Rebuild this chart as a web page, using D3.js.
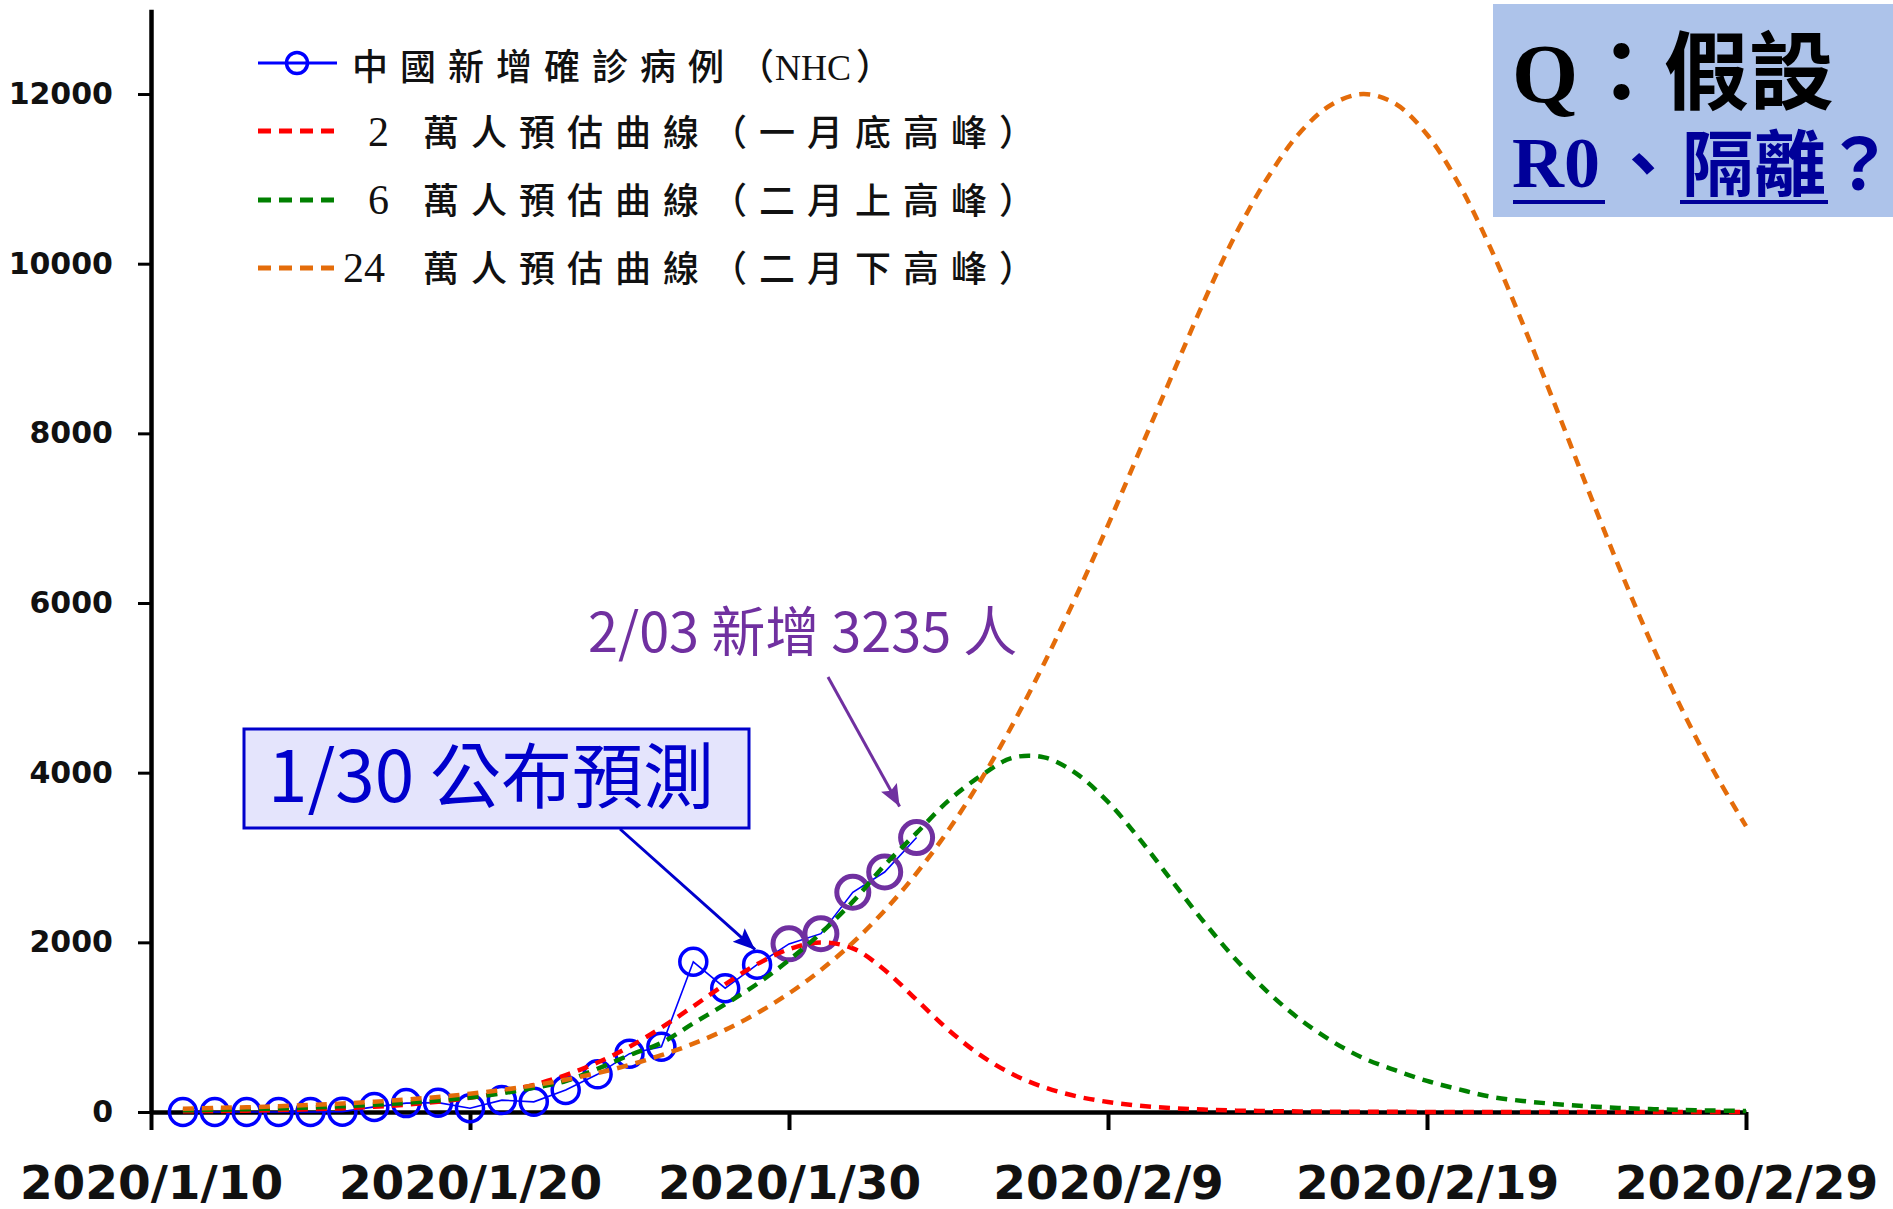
<!DOCTYPE html>
<html>
<head>
<meta charset="utf-8">
<script src="https://cdn.jsdelivr.net/npm/d3@7"></script>
<style>
  body { margin: 0; background: #fff; }
  svg { display: block; }
</style>
</head>
<body>
<svg id="chart" width="1893" height="1209"></svg>
<script>
// ---------------- DATA ----------------
const caseDates = ["2020-01-11","2020-01-12","2020-01-13","2020-01-14","2020-01-15","2020-01-16",
  "2020-01-17","2020-01-18","2020-01-19","2020-01-20","2020-01-21","2020-01-22","2020-01-23",
  "2020-01-24","2020-01-25","2020-01-26","2020-01-27","2020-01-28","2020-01-29","2020-01-30",
  "2020-01-31","2020-02-01","2020-02-02","2020-02-03"];
const newCases = [0,0,0,0,0,4,60,105,110,45,140,120,259,444,688,769,1771,1459,1737,1982,2102,2590,2829,3235];
const highlightFrom = "2020-01-30";

const curveStart = "2020-01-11";
const curveEnd = "2020-02-29";
const forecast20k = [8,12,16,23,32,45,62,87,121,169,
  233,320,435,583,770,994,1246,1506,1743,1919,
  1998,1929,1673,1321,967,670,447,291,186,118,
  74,46,29,18,11,7,4,3,2,1,
  1,1,0,0,0,0,0,0,0,0];
const forecast60k = [20,26,33,42,53,67,85,107,135,172,
  220,285,365,510,670,815,1045,1270,1510,1790,
  2110,2480,2910,3290,3670,3960,4175,4180,3991,3655,
  3213,2726,2243,1801,1417,1097,839,636,493,366,
  267,180,130,95,68,48,34,24,17,12];
const forecast240k = [38,47,56,68,83,100,121,147,178,215,
  260,314,381,460,555,670,805,968,1165,1398,
  1674,1996,2376,2816,3324,3905,4560,5291,6079,6919,
  7802,8677,9549,10345,11010,11538,11874,12000,11887,11523,
  10938,10177,9294,8347,7382,6441,5553,4739,4011,3370];

// legend labels split into pieces: [latin prefix, CJK body, open paren, latin inner, closing]
const legendLabels = [
  ["", "中國新增確診病例", "（", "NHC", "）"],
  ["2", "萬人預估曲線（一月底高峰）", "", "", ""],
  ["6", "萬人預估曲線（二月上高峰）", "", "", ""],
  ["24", "萬人預估曲線（二月下高峰）", "", "", ""]
];

const xTickDates = ["2020-01-10","2020-01-20","2020-01-30","2020-02-09","2020-02-19","2020-02-29"];
const xTickLabels = ["2020/1/10","2020/1/20","2020/1/30","2020/2/9","2020/2/19","2020/2/29"];
const yTicks = [0,2000,4000,6000,8000,10000,12000];

const annotation1 = "1/30 公布預測";
const annotation2 = "2/03 新增 3235 人";
const questionLine1 = ["Q", "：假設"];
const questionLine2 = ["R0", "、", "隔離", "？"];

// ---------------- SETUP ----------------
const parse = d3.timeParse("%Y-%m-%d");
const svg = d3.select("#chart");
svg.append("rect").attr("width", 1893).attr("height", 1209).attr("fill", "#fff");

const x = d3.scaleTime()
  .domain([parse("2020-01-10"), parse("2020-02-29")])
  .range([151, 1746]);
const y = d3.scaleLinear().domain([0, 13000]).range([1112, 9.2]);

const defs = svg.append("defs");
function marker(id, color) {
  defs.append("marker").attr("id", id)
    .attr("markerUnits", "userSpaceOnUse")
    .attr("markerWidth", 24).attr("markerHeight", 20)
    .attr("refX", 22).attr("refY", 9).attr("orient", "auto")
    .append("path").attr("d", "M0,0 L22,9 L0,18 L4,9 Z").attr("fill", color);
}
marker("arrBlue", "#0000CC");
marker("arrPurple", "#7030A0");

// ---------------- AXES ----------------
const gx = svg.append("g").attr("transform", "translate(0,1112)")
  .call(d3.axisBottom(x)
    .tickValues(xTickDates.map(parse))
    .tickFormat((d, i) => xTickLabels[i])
    .tickSize(18).tickSizeOuter(0).tickPadding(36));
gx.select(".domain").attr("stroke", "#000").attr("stroke-width", 4.5);
gx.selectAll(".tick line").attr("stroke", "#000").attr("stroke-width", 4);
gx.selectAll(".tick text")
  .attr("font-family", "'DejaVu Sans', Verdana, sans-serif")
  .attr("font-weight", "bold").attr("font-size", 47).attr("fill", "#111");

const gy = svg.append("g").attr("transform", "translate(151,0)")
  .call(d3.axisLeft(y).tickValues(yTicks).tickFormat(d3.format("d"))
    .tickSize(13).tickSizeOuter(0).tickPadding(25));
gy.select(".domain").attr("stroke", "#000").attr("stroke-width", 4.5);
gy.selectAll(".tick line").attr("stroke", "#000").attr("stroke-width", 3);
gy.selectAll(".tick text")
  .attr("font-family", "'DejaVu Sans', Verdana, sans-serif")
  .attr("font-weight", "bold").attr("font-size", 30).attr("fill", "#111");

// ---------------- OBSERVED DATA ----------------
const obs = caseDates.map((d, i) => ({ date: parse(d), v: newCases[i], hi: d >= highlightFrom }));
svg.append("path").datum(obs)
  .attr("fill", "none").attr("stroke", "#0000FF").attr("stroke-width", 1.6)
  .attr("d", d3.line().x(d => x(d.date)).y(d => y(d.v)));
svg.append("g").selectAll("circle").data(obs).join("circle")
  .attr("cx", d => x(d.date)).attr("cy", d => y(d.v))
  .attr("r", d => d.hi ? 16 : 13.5)
  .attr("fill", "none")
  .attr("stroke", d => d.hi ? "#7030A0" : "#0000FF")
  .attr("stroke-width", d => d.hi ? 5 : 3.5);

// ---------------- FORECAST CURVES ----------------
const curveDates = d3.timeDay.range(parse(curveStart), d3.timeDay.offset(parse(curveEnd), 1));
const curveLine = d3.line().x(d => x(d.date)).y(d => y(Math.max(0, d.v)))
  .curve(d3.curveCatmullRom.alpha(0.5));
const series = [
  { vals: forecast20k, color: "#FF0000" },
  { vals: forecast60k, color: "#008000" },
  { vals: forecast240k, color: "#E46C0A" }
];
series.forEach(s => {
  svg.append("path")
    .datum(curveDates.map((d, i) => ({ date: d, v: s.vals[i] })))
    .attr("fill", "none").attr("stroke", s.color).attr("stroke-width", 4.5)
    .attr("stroke-dasharray", "11 8")
    .attr("d", curveLine);
});

// ---------------- LEGEND ----------------
const legendFont = "'Liberation Serif', 'Noto Sans CJK TC', serif";
const legendRows = [
  { label: legendLabels[0], color: "#0000FF", dashed: false, ly: 63, ty: 80, px: 0, cx: 352, ox: 738, nx: 775, ex: 856 },
  { label: legendLabels[1], color: "#FF0000", dashed: true, ly: 131, ty: 146, px: 368, cx: 423 },
  { label: legendLabels[2], color: "#008000", dashed: true, ly: 200, ty: 214, px: 368, cx: 423 },
  { label: legendLabels[3], color: "#E46C0A", dashed: true, ly: 268, ty: 282, px: 343, cx: 423 }
];
const lg = svg.append("g");
legendRows.forEach(r => {
  lg.append("line").attr("x1", 258).attr("x2", 337).attr("y1", r.ly).attr("y2", r.ly)
    .attr("stroke", r.color).attr("stroke-width", r.dashed ? 5 : 3)
    .attr("stroke-dasharray", r.dashed ? "13 8" : null);
  if (!r.dashed) {
    lg.append("circle").attr("cx", 297).attr("cy", r.ly).attr("r", 10.5)
      .attr("fill", "none").attr("stroke", r.color).attr("stroke-width", 3.5);
  }
  const t = lg.append("text").attr("y", r.ty)
    .attr("font-size", 36).attr("font-weight", 500).attr("fill", "#111")
    .attr("font-family", legendFont);
  const [pre, body, open, inner, close] = r.label;
  if (pre) t.append("tspan").attr("x", r.px).attr("font-size", 42).text(pre);
  t.append("tspan").attr("x", r.cx).attr("letter-spacing", 12).text(body);
  if (open) t.append("tspan").attr("x", r.ox).text(open);
  if (inner) t.append("tspan").attr("x", r.nx).text(inner);
  if (close) t.append("tspan").attr("x", r.ex).text(close);
});

// ---------------- ANNOTATIONS ----------------
svg.append("rect").attr("x", 244).attr("y", 729).attr("width", 505).attr("height", 99)
  .attr("fill", "#E4E4FC").attr("stroke", "#0000CC").attr("stroke-width", 3);
svg.append("text").attr("x", 268).attr("y", 802)
  .attr("font-family", "'Noto Sans CJK TC', 'Noto Sans', sans-serif")
  .attr("font-size", 71).attr("fill", "#0000CC").text(annotation1);
const p129 = obs.find(d => d.v === 1737);
svg.append("line").attr("x1", 620).attr("y1", 829)
  .attr("x2", x(p129.date) - 2).attr("y2", y(p129.v) - 15)
  .attr("stroke", "#0000CC").attr("stroke-width", 3).attr("marker-end", "url(#arrBlue)");

svg.append("text").attr("x", 588).attr("y", 652)
  .attr("font-family", "'Noto Sans CJK TC', 'Noto Sans', sans-serif")
  .attr("font-size", 54).attr("fill", "#7030A0").text(annotation2);
const p203 = obs[obs.length - 1];
svg.append("line").attr("x1", 828).attr("y1", 677)
  .attr("x2", x(p203.date) - 17).attr("y2", y(p203.v) - 31)
  .attr("stroke", "#7030A0").attr("stroke-width", 3).attr("marker-end", "url(#arrPurple)");

// ---------------- QUESTION BOX ----------------
svg.append("rect").attr("x", 1493).attr("y", 4).attr("width", 400).attr("height", 213)
  .attr("fill", "#ADC3EA");
const blueQ = "#000099";
const qFont = "'Liberation Serif', 'Noto Sans CJK TC', serif";
const qt = svg.append("text").attr("font-weight", "bold").attr("font-family", qFont);
qt.append("tspan").attr("x", 1512).attr("y", 103).attr("font-size", 85).attr("fill", "#000")
  .text(questionLine1[0]);
qt.append("tspan").attr("x", 1579).attr("y", 103).attr("font-size", 85).attr("fill", "#000")
  .text(questionLine1[1]);
const qt2 = svg.append("text").attr("font-weight", "bold").attr("font-family", qFont).attr("fill", blueQ);
qt2.append("tspan").attr("x", 1512).attr("y", 187).attr("font-size", 72).text(questionLine2[0]);
qt2.append("tspan").attr("x", 1608).attr("y", 190).attr("font-size", 70).text(questionLine2[1]);
qt2.append("tspan").attr("x", 1682).attr("y", 190).attr("font-size", 72).text(questionLine2[2]);
qt2.append("tspan").attr("x", 1824).attr("y", 190).attr("font-size", 70).text(questionLine2[3]);
svg.append("rect").attr("x", 1513).attr("y", 200).attr("width", 92).attr("height", 4).attr("fill", blueQ);
svg.append("rect").attr("x", 1680).attr("y", 200).attr("width", 148).attr("height", 4).attr("fill", blueQ);
</script>
</body>
</html>
